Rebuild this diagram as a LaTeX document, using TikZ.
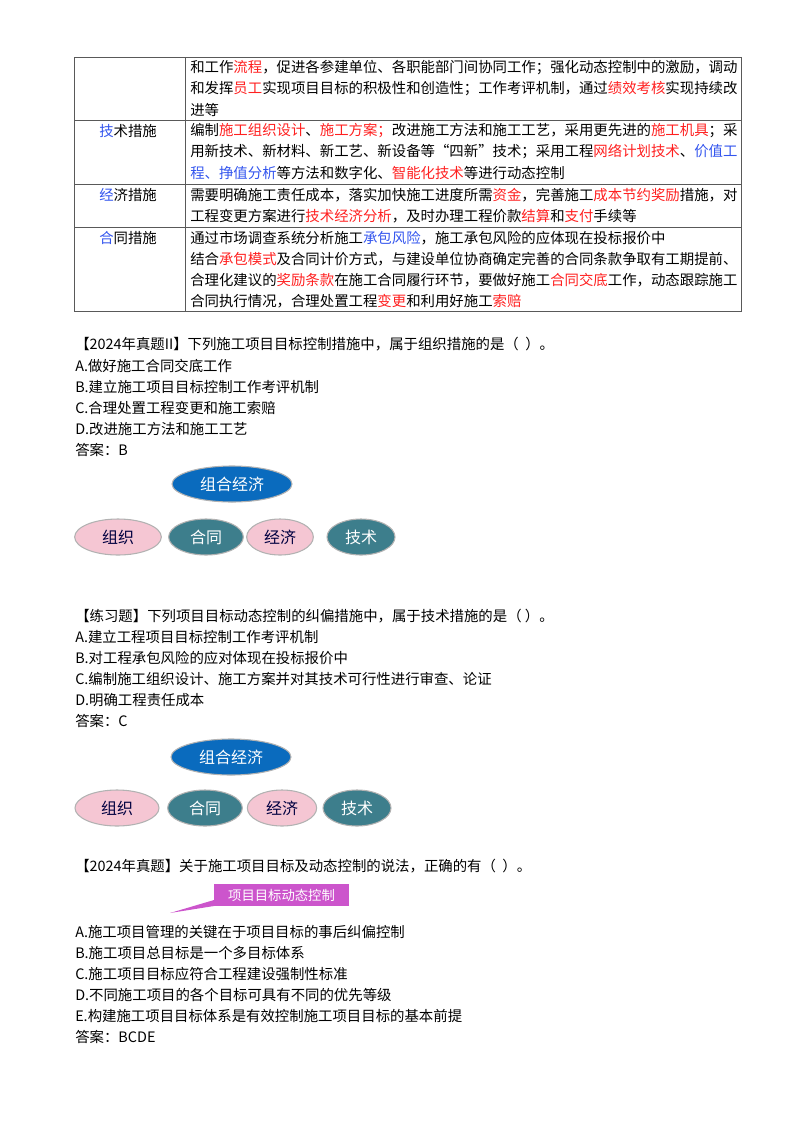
\documentclass[tikz,border=0pt]{standalone}
\usepackage{fontspec}
\setmainfont{Noto Sans CJK SC}
\usetikzlibrary{shapes.geometric}
\definecolor{rd}{HTML}{FF2020}
\definecolor{bl}{HTML}{3355EE}
\definecolor{eblue}{HTML}{0A6BBE}
\definecolor{epink}{HTML}{F5C6D3}
\definecolor{eteal}{HTML}{3D7E8C}
\definecolor{mag}{HTML}{CC55CC}
\newcommand{\R}[1]{\textcolor{rd}{#1}}
\newcommand{\B}[1]{\textcolor{bl}{#1}}
\begin{document}
\begin{tikzpicture}[x=0.75pt,y=-0.75pt,
 t/.style={anchor=west,inner sep=0,font=\fontsize{10.8pt}{12pt}\selectfont},
 el/.style={ellipse,draw=gray!60,line width=0.8pt,minimum height=27pt,inner sep=0,font=\fontsize{12pt}{14pt}\selectfont},
 bE/.style={el,fill=eblue,text=white},
 pE/.style={el,fill=epink,text=black!75!blue},
 tE/.style={el,fill=eteal,text=white}]
\useasboundingbox (0,0) rectangle (800,1132);
% table
\draw[gray!70!black,line width=0.6pt] (74,57) rectangle (741,311);
\draw[gray!70!black,line width=0.6pt] (185,57)--(185,311) (74,120)--(741,120) (74,184)--(741,184) (74,227)--(741,227);
\node[t] (r1a) at (190,68) {和工作\R{流程}，促进各参建单位、各职能部门间协同工作；强化动态控制中的激励，调动};
\node[t] (r1b) at (190,89) {和发挥\R{员工}实现项目目标的积极性和创造性；工作考评机制，通过\R{绩效考核}实现持续改};
\node[t] (r1c) at (190,110) {进等};
\node[t] (h2) at (99,131) {\B{技}术措施};
\node[t] (r2a) at (190,131) {编制\R{施工组织设计}、\R{施工方案；}改进施工方法和施工工艺，采用更先进的\R{施工机具}；采};
\node[t] (r2b) at (190,152) {用新技术、新材料、新工艺、新设备等“四新”技术；采用工程\R{网络计划技术}、\B{价值工}};
\node[t] (r2c) at (190,173) {\B{程、挣值分析}等方法和数字化、\R{智能化技术}等进行动态控制};
\node[t] (h3) at (99,195) {\B{经}济措施};
\node[t] (r3a) at (190,195) {需要明确施工责任成本，落实加快施工进度所需\R{资金}，完善施工\R{成本节约奖励}措施，对};
\node[t] (r3b) at (190,216) {工程变更方案进行\R{技术经济分析}，及时办理工程价款\R{结算}和\R{支付}手续等};
\node[t] (h4) at (99,238) {\B{合}同措施};
\node[t] (r4a) at (190,238) {通过市场调查系统分析施工\B{承包风险}，施工承包风险的应体现在投标报价中};
\node[t] (r4b) at (190,259) {结合\R{承包模式}及合同计价方式，与建设单位协商确定完善的合同条款争取有工期提前、};
\node[t] (r4c) at (190,280) {合理化建议的\R{奖励条款}在施工合同履行环节，要做好施工\R{合同交底}工作，动态跟踪施工};
\node[t] (r4d) at (190,301) {合同执行情况，合理处置工程\R{变更}和利用好施工\R{索赔}};
% Q1
\node[t] (q1) at (75,344) {【2024年真题II】下列施工项目目标控制措施中，属于组织措施的是（\ \ ）。};
\node[t] (q1a) at (75,366) {A.做好施工合同交底工作};
\node[t] (q1b) at (75,387) {B.建立施工项目目标控制工作考评机制};
\node[t] (q1c) at (75,408) {C.合理处置工程变更和施工索赔};
\node[t] (q1d) at (75,429) {D.改进施工方法和施工工艺};
\node[t] (q1e) at (75,450) {答案：B};
\node[bE,minimum width=90pt] (e1) at (232,484) {组合经济};
\node[pE,minimum width=65pt] (e2) at (118,537) {组织};
\node[tE,minimum width=56pt] (e3) at (206,537) {合同};
\node[pE,minimum width=50pt] (e4) at (280,537) {经济};
\node[tE,minimum width=51pt] (e5) at (361,537) {技术};
% Q2
\node[t] (q2) at (75,616) {【练习题】下列项目目标动态控制的纠偏措施中，属于技术措施的是（\ ）。};
\node[t] (q2a) at (75,637) {A.建立工程项目目标控制工作考评机制};
\node[t] (q2b) at (75,658) {B.对工程承包风险的应对体现在投标报价中};
\node[t] (q2c) at (75,679) {C.编制施工组织设计、施工方案并对其技术可行性进行审查、论证};
\node[t] (q2d) at (75,700) {D.明确工程责任成本};
\node[t] (q2e) at (75,721) {答案：C};
\node[bE,minimum width=90pt] (f1) at (231,757) {组合经济};
\node[pE,minimum width=63pt] (f2) at (117,808) {组织};
\node[tE,minimum width=56pt] (f3) at (205,808) {合同};
\node[pE,minimum width=52pt] (f4) at (282,808) {经济};
\node[tE,minimum width=51pt] (f5) at (357,808) {技术};
% Q3
\node[t] (q3) at (75,866) {【2024年真题】关于施工项目目标及动态控制的说法，正确的有（\ \ ）。};
\node[fill=mag,text=white,minimum width=101pt,minimum height=16.5pt,inner sep=0,font=\fontsize{10pt}{12pt}\selectfont] (cb) at (281.5,895) {项目目标动态控制};
\coordinate (tip) at (170,913);
\fill[mag] (tip) -- (214,900) -- (214,906) -- cycle;
\node[t] (q3a) at (75,932) {A.施工项目管理的关键在于项目目标的事后纠偏控制};
\node[t] (q3b) at (75,953) {B.施工项目总目标是一个多目标体系};
\node[t] (q3c) at (75,974) {C.施工项目目标应符合工程建设强制性标准};
\node[t] (q3d) at (75,995) {D.不同施工项目的各个目标可具有不同的优先等级};
\node[t] (q3e) at (75,1016) {E.构建施工项目目标体系是有效控制施工项目目标的基本前提};
\node[t] (q3f) at (75,1037) {答案：BCDE};
\end{tikzpicture}
\end{document}
